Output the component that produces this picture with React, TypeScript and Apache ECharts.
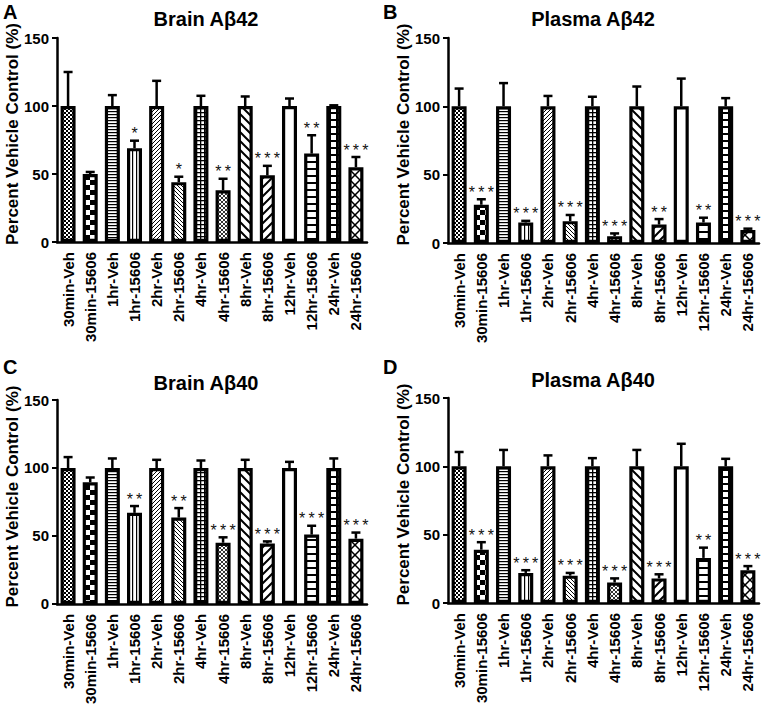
import React, { useEffect, useRef } from "react";
import * as echarts from "echarts";

const categories = [
  "30min-Veh", "30min-15606", "1hr-Veh", "1hr-15606", "2hr-Veh", "2hr-15606",
  "4hr-Veh", "4hr-15606", "8hr-Veh", "8hr-15606", "12hr-Veh", "12hr-15606",
  "24hr-Veh", "24hr-15606",
];
const yTicks = [0, 50, 100, 150];

const brainAb42Mean = [100, 50, 100, 69, 100, 44, 100, 38, 100, 49, 100, 65, 100, 55];
const brainAb42Err = [25, 1.5, 8, 5.5, 18.5, 4, 7.5, 8.5, 7, 7, 5.5, 13.5, 0.5, 7.5];
const brainAb42Sig = ["", "", "", "*", "", "*", "", "**", "", "***", "", "**", "", "***"];

const plasmaAb42Mean = [100, 28, 100, 15, 100, 16, 100, 5, 100, 13.5, 100, 15, 100, 9.5];
const plasmaAb42Err = [13, 4, 17, 1.2, 7.6, 4.5, 7, 2, 14.5, 4, 20.3, 3.5, 6, 1];
const plasmaAb42Sig = ["", "***", "", "***", "", "***", "", "***", "", "**", "", "**", "", "***"];

const brainAb40Mean = [100, 89.5, 100, 67, 100, 63.5, 100, 45, 100, 44.5, 100, 51, 100, 48];
const brainAb40Err = [8, 3.5, 7, 5, 6, 7, 5.5, 4, 6, 1.5, 4.5, 6.5, 7, 4.5];
const brainAb40Sig = ["", "", "", "**", "", "**", "", "***", "", "***", "", "***", "", "***"];

const plasmaAb40Mean = [100, 39, 100, 22, 100, 20, 100, 15, 100, 18, 100, 33, 100, 24];
const plasmaAb40Err = [10.5, 5.5, 12, 2, 8, 2, 6, 3, 12, 3, 16.5, 7.5, 5.5, 3];
const plasmaAb40Sig = ["", "***", "", "***", "", "***", "", "***", "", "***", "", "**", "", "***"];

const panels = [
  { letter: "A", title: "Brain Aβ42", mean: brainAb42Mean, err: brainAb42Err, sig: brainAb42Sig },
  { letter: "B", title: "Plasma Aβ42", mean: plasmaAb42Mean, err: plasmaAb42Err, sig: plasmaAb42Sig },
  { letter: "C", title: "Brain Aβ40", mean: brainAb40Mean, err: brainAb40Err, sig: brainAb40Sig },
  { letter: "D", title: "Plasma Aβ40", mean: plasmaAb40Mean, err: plasmaAb40Err, sig: plasmaAb40Sig },
];

const FONT = "'Liberation Sans', Arial, Helvetica, sans-serif";

function makeTile(size: number, draw: (g: CanvasRenderingContext2D, s: number) => void): any {
  const c = document.createElement("canvas");
  c.width = size;
  c.height = size;
  const g = c.getContext("2d") as CanvasRenderingContext2D;
  g.fillStyle = "#fff";
  g.fillRect(0, 0, size, size);
  g.fillStyle = "#000";
  g.strokeStyle = "#000";
  draw(g, size);
  return { image: c.toDataURL(), repeat: "repeat", imageWidth: size, imageHeight: size };
}

function slash(g: CanvasRenderingContext2D, s: number, w: number) {
  g.lineWidth = w;
  g.beginPath();
  for (const k of [-s, 0, s]) {
    g.moveTo(k - 1, s + 1);
    g.lineTo(k + s + 1, -1);
  }
  g.stroke();
}
function back(g: CanvasRenderingContext2D, s: number, w: number) {
  g.lineWidth = w;
  g.beginPath();
  for (const k of [-s, 0, s]) {
    g.moveTo(k - 1, -1);
    g.lineTo(k + s + 1, s + 1);
  }
  g.stroke();
}

function makePatterns(): any[] {
  return [
    makeTile(4, (g) => { g.fillRect(0, 0, 2, 2); g.fillRect(2, 2, 2, 2); }),
    makeTile(10, (g) => { g.fillRect(0, 0, 5, 5); g.fillRect(5, 5, 5, 5); }),
    makeTile(3, (g) => { g.fillRect(0, 0, 3, 1.2); }),
    makeTile(4, (g) => { g.fillRect(0, 0, 1.2, 4); }),
    makeTile(4, (g, s) => slash(g, s, 1)),
    makeTile(4, (g, s) => back(g, s, 1)),
    makeTile(4, (g) => { g.fillRect(0, 0, 4, 1.3); g.fillRect(0, 0, 1.3, 4); }),
    makeTile(4, (g, s) => { slash(g, s, 0.8); back(g, s, 0.8); }),
    makeTile(9, (g, s) => back(g, s, 2)),
    makeTile(9, (g, s) => slash(g, s, 2)),
    "#ffffff",
    makeTile(7, (g) => { g.fillRect(0, 0, 7, 2); }),
    makeTile(7, (g) => { g.fillRect(0, 0, 7, 2); g.fillRect(0, 0, 2, 7); }),
    makeTile(10, (g, s) => { slash(g, s, 1.5); back(g, s, 1.5); }),
  ];
}

const gridBoxes = [
  { left: 57, top: 38, width: 310, height: 204 },
  { left: 448, top: 38, width: 311, height: 205 },
  { left: 57, top: 400, width: 310, height: 205 },
  { left: 448, top: 398, width: 311, height: 205 },
];

export default function App() {
  const ref = useRef<HTMLDivElement>(null);
  useEffect(() => {
    if (!ref.current) return;
    const chart = echarts.init(ref.current, null, { renderer: "svg" });
    const patterns = makePatterns();

    const grid: any[] = [];
    const xAxis: any[] = [];
    const yAxis: any[] = [];
    const series: any[] = [];
    const graphic: any[] = [];

    panels.forEach((p, i) => {
      const b = gridBoxes[i];
      grid.push({ left: b.left, top: b.top, width: b.width, height: b.height, containLabel: false });
      xAxis.push({
        type: "category",
        gridIndex: i,
        data: categories,
        axisLine: { lineStyle: { color: "#000", width: 2.5 } },
        axisTick: { alignWithLabel: true, length: 6, lineStyle: { color: "#000", width: 2 } },
        axisLabel: {
          rotate: 90, interval: 0, margin: 10, color: "#000",
          fontFamily: FONT, fontWeight: "bold", fontSize: 15,
        },
      });
      yAxis.push({
        type: "value",
        gridIndex: i,
        min: yTicks[0],
        max: yTicks[yTicks.length - 1],
        interval: 50,
        splitLine: { show: false },
        axisLine: { show: true, lineStyle: { color: "#000", width: 2.5 } },
        axisTick: { show: true, length: 5, lineStyle: { color: "#000", width: 2 } },
        axisLabel: { margin: 8, color: "#000", fontFamily: FONT, fontWeight: "bold", fontSize: 15 },
      });
      series.push({
        type: "bar",
        xAxisIndex: i,
        yAxisIndex: i,
        barWidth: 15,
        z: 2,
        data: p.mean.map((v, k) => ({
          value: v,
          itemStyle: { color: patterns[k], borderColor: "#000", borderWidth: 3.2 },
        })),
      });
      const sig = p.sig;
      series.push({
        type: "custom",
        xAxisIndex: i,
        yAxisIndex: i,
        z: 3,
        encode: { x: 0, y: 1 },
        data: p.mean.map((v, k) => [k, v, p.err[k]]),
        renderItem: (params: any, api: any) => {
          const x = api.value(0);
          const m = api.value(1);
          const e = api.value(2);
          const top = api.coord([x, m]);
          const et = api.coord([x, m + e]);
          const children: any[] = [
            { type: "line", shape: { x1: top[0], y1: top[1], x2: top[0], y2: et[1] }, style: { stroke: "#000", lineWidth: 2.5 } },
            { type: "line", shape: { x1: top[0] - 4.5, y1: et[1], x2: top[0] + 4.5, y2: et[1] }, style: { stroke: "#000", lineWidth: 2.5 } },
          ];
          const s = sig[params.dataIndex];
          if (s) {
            children.push({
              type: "text",
              x: top[0],
              y: et[1] - 7,
              style: {
                text: s.split("").join("\u2009"),
                fill: "#111",
                font: `16px ${FONT}`,
                align: "center",
                verticalAlign: "middle",
                textAlign: "center",
                textVerticalAlign: "middle",
              },
            });
          }
          return { type: "group", children };
        },
      });

      const letterX = i % 2 === 0 ? 3 : 383;
      const letterY = i < 2 ? 13 : 368;
      const titleX = i % 2 === 0 ? 206 : 593;
      const titleY = i < 2 ? 19 : (i === 2 ? 383 : 380);
      graphic.push({
        type: "text", left: letterX, top: letterY - 11,
        style: { text: p.letter, fill: "#000", font: `bold 20px ${FONT}` },
      });
      graphic.push({
        type: "text", x: titleX, y: titleY,
        style: { text: p.title, fill: "#000", font: `bold 20px ${FONT}`, textAlign: "center", textVerticalAlign: "middle", align: "center", verticalAlign: "middle" },
      });
      graphic.push({
        type: "text", x: b.left - 45, y: b.top + b.height / 2 - 6, rotation: Math.PI / 2,
        style: { text: "Percent Vehicle Control (%)", fill: "#000", font: `bold 17px ${FONT}`, textAlign: "center", textVerticalAlign: "middle", align: "center", verticalAlign: "middle" },
      });
    });

    chart.setOption({
      animation: false,
      backgroundColor: "#fff",
      grid,
      xAxis,
      yAxis,
      series,
      graphic,
    });
    return () => chart.dispose();
  }, []);
  return (
    <div
      ref={ref}
      style={{ position: "fixed", left: 0, top: 0, width: 761, height: 707, background: "#fff" }}
    />
  );
}
